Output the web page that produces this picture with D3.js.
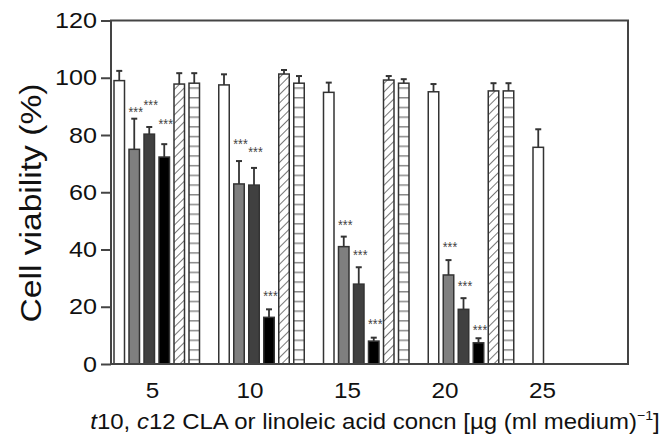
<!DOCTYPE html>
<html>
<head>
<meta charset="utf-8">
<script src="https://cdn.jsdelivr.net/npm/d3@7"></script>
<style>
  body { margin: 0; background: #fff; }
  text { font-family: "Liberation Sans", Arial, sans-serif; }
</style>
</head>
<body>
<script>
// concentrations of the fatty acid, ug per ml medium
var concentrations = [5, 10, 15, 20, 25]
var seriesNames = ["A", "B", "C", "D", "E", "F"]

// mean cell viability (%) per series, one entry per concentration
var valuesA = [99.0, 97.5, 94.9, 95.1, 75.7]
var valuesB = [75.0, 62.9, 41.0, 31.1, null]
var valuesC = [80.3, 62.5, 27.9, 19.1, null]
var valuesD = [72.3, 16.3, 8.0, 7.4, null]
var valuesE = [97.8, 101.3, 99.2, 95.4, null]
var valuesF = [98.1, 98.1, 98.1, 95.4, null]

// upper error (SD)
var errA = [3.4, 3.7, 3.4, 2.7, 6.3]
var errB = [10.7, 8.0, 3.5, 5.2, null]
var errC = [2.5, 6.0, 5.9, 3.9, null]
var errD = [4.5, 2.8, 1.2, 1.6, null]
var errE = [3.8, 1.4, 1.4, 2.7, null]
var errF = [3.5, 2.5, 1.4, 2.7, null]

// level (%) where the *** marks sit
var starsB = [89.0, 77.9, 49.7, 41.8, null]
var starsC = [91.6, 75.2, 39.2, 28.4, null]
var starsD = [84.9, 24.9, 15.0, 13.0, null]

var yTicks = [0, 20, 40, 60, 80, 100, 120]

var allValues = [valuesA, valuesB, valuesC, valuesD, valuesE, valuesF]
var allErr = [errA, errB, errC, errD, errE, errF]
var allStars = [null, starsB, starsC, starsD, null, null]

var W = 667, H = 442
var plot = {left: 111, right: 628, top: 20.5, bottom: 364}

var svg = d3.select("body").append("svg")
  .attr("width", W)
  .attr("height", H)

var defs = svg.append("defs")
var hatch = defs.append("pattern")
  .attr("id", "hatch")
  .attr("patternUnits", "userSpaceOnUse")
  .attr("width", 6)
  .attr("height", 6)
  .attr("patternTransform", "rotate(45)")
hatch.append("rect").attr("width", 6).attr("height", 6).attr("fill", "#fff")
hatch.append("line")
  .attr("x1", 0).attr("y1", 0).attr("x2", 0).attr("y2", 6)
  .attr("stroke", "#555").attr("stroke-width", 1.6)

var stripes = defs.append("pattern")
  .attr("id", "stripes")
  .attr("patternUnits", "userSpaceOnUse")
  .attr("width", 10)
  .attr("height", 9.7)
stripes.append("rect").attr("width", 10).attr("height", 9.7).attr("fill", "#fff")
stripes.append("line")
  .attr("x1", 0).attr("y1", 0.75).attr("x2", 10).attr("y2", 0.75)
  .attr("stroke", "#888").attr("stroke-width", 1.5)

var fills = ["#fff", "#7f7f7f", "#404040", "#000", "url(#hatch)", "url(#stripes)"]

var yScale = d3.scaleLinear()
  .domain([0, 120])
  .range([plot.bottom, plot.top])

var xGroup = d3.scaleBand()
  .domain(concentrations)
  .range([114, 114 + 5 * 104.75])
  .padding(0)

var xBar = d3.scaleBand()
  .domain(seriesNames)
  .range([0, 85.5])
  .paddingInner(0.3)
  .paddingOuter(0)

// tick labels are not centred on the groups in the original
var xLabel = d3.scaleLinear()
  .domain([5, 25])
  .range([152, 542])

// flatten into one record per bar
var bars = []
seriesNames.forEach(function(s, i) {
  concentrations.forEach(function(c, j) {
    if (allValues[i][j] != null) {
      bars.push({
        series: s, idx: i, conc: c,
        value: allValues[i][j],
        err: allErr[i][j],
        star: allStars[i] ? allStars[i][j] : null
      })
    }
  })
})

var g = svg.append("g")

g.selectAll("rect.bar")
  .data(bars)
  .enter()
  .append("rect")
  .attr("class", "bar")
  .attr("x", function(d) { return xGroup(d.conc) + xBar(d.series) })
  .attr("y", function(d) { return yScale(d.value) })
  .attr("width", xBar.bandwidth())
  .attr("height", function(d) { return yScale(0) - yScale(d.value) })
  .attr("fill", function(d) { return fills[d.idx] })
  .attr("stroke", "#333")
  .attr("stroke-width", 1.5)

// upper error bars
var eb = g.selectAll("g.err")
  .data(bars)
  .enter()
  .append("g")
  .attr("class", "err")
  .attr("transform", function(d) {
    return "translate(" + (xGroup(d.conc) + xBar(d.series) + xBar.bandwidth() / 2) + ",0)"
  })
eb.append("line")
  .attr("x1", 0).attr("x2", 0)
  .attr("y1", function(d) { return yScale(d.value) })
  .attr("y2", function(d) { return yScale(d.value + d.err) })
  .attr("stroke", "#333").attr("stroke-width", 1.8)
eb.append("line")
  .attr("x1", -3).attr("x2", 3)
  .attr("y1", function(d) { return yScale(d.value + d.err) })
  .attr("y2", function(d) { return yScale(d.value + d.err) })
  .attr("stroke", "#333").attr("stroke-width", 2)

// significance marks
g.selectAll("text.star")
  .data(bars.filter(function(d) { return d.star != null }))
  .enter()
  .append("text")
  .attr("class", "star")
  .attr("x", function(d) { return xGroup(d.conc) + xBar(d.series) + xBar.bandwidth() / 2 + 1.5 })
  .attr("y", function(d) { return yScale(d.star) + 8 })
  .attr("text-anchor", "middle")
  .style("font-size", "15px")
  .attr("textLength", 14.4)
  .attr("lengthAdjust", "spacingAndGlyphs")
  .attr("fill", "#444")
  .text("***")

// frame
svg.append("rect")
  .attr("x", plot.left)
  .attr("y", plot.top)
  .attr("width", plot.right - plot.left)
  .attr("height", plot.bottom - plot.top)
  .attr("fill", "none")
  .attr("stroke", "#444")
  .attr("stroke-width", 2)

var yAxis = d3.axisLeft(yScale)
  .tickValues(yTicks)
  .tickSize(10)
  .tickPadding(4)
var ya = svg.append("g")
  .attr("transform", "translate(" + plot.left + ",0)")
  .call(yAxis)
ya.select(".domain").remove()
ya.selectAll("line").attr("stroke", "#444").attr("stroke-width", 2)
ya.selectAll("text")
  .attr("fill", "#111")
  .style("font-size", "22px")
  .style("font-family", "'Liberation Sans', Arial, sans-serif")
  .attr("textLength", function(d) { return String(d).length * 14 })
  .attr("lengthAdjust", "spacingAndGlyphs")

var xAxis = d3.axisBottom(xLabel)
  .tickValues(concentrations)
  .tickSize(0)
  .tickPadding(18)
var xa = svg.append("g")
  .attr("transform", "translate(0," + plot.bottom + ")")
  .call(xAxis)
xa.select(".domain").remove()
xa.selectAll("text")
  .attr("fill", "#111")
  .style("font-size", "22px")
  .style("font-family", "'Liberation Sans', Arial, sans-serif")
  .attr("textLength", function(d) { return String(d).length * 13.5 })
  .attr("lengthAdjust", "spacingAndGlyphs")

// axis titles
svg.append("text")
  .attr("transform", "translate(41,203) rotate(-90) scale(1.12,1)")
  .attr("text-anchor", "middle")
  .style("font-size", "30px")
  .attr("fill", "#111")
  .text("Cell viability (%)")

var xt = svg.append("text")
  .attr("transform", "translate(375,429) scale(1.09,1)")
  .attr("text-anchor", "middle")
  .style("font-size", "22px")
  .attr("fill", "#111")
xt.append("tspan").style("font-style", "italic").text("t")
xt.append("tspan").text("10, ")
xt.append("tspan").style("font-style", "italic").text("c")
xt.append("tspan").text("12 CLA or linoleic acid concn [\u00b5g (ml medium)")
xt.append("tspan").attr("dy", -9).style("font-size", "13px").text("\u22121")
xt.append("tspan").attr("dy", 9).text("]")
</script>
</body>
</html>
